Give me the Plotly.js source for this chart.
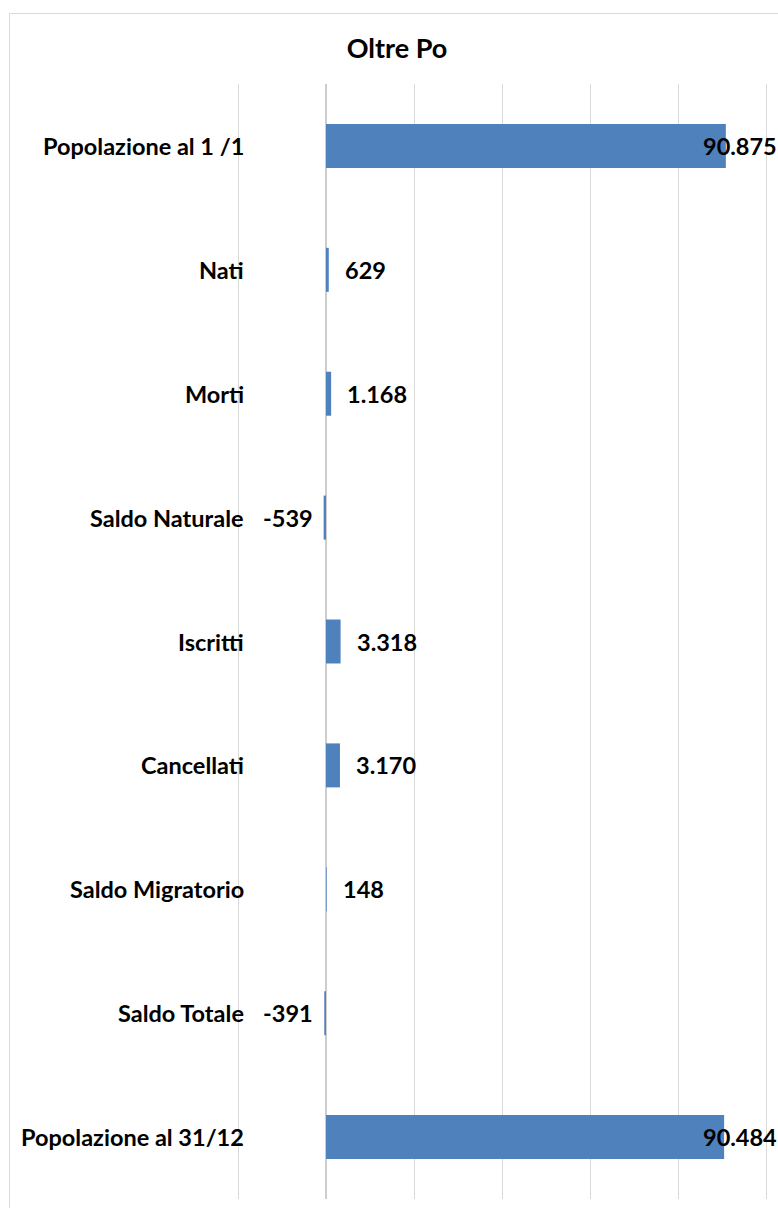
<!DOCTYPE html>
<html>
<head>
<meta charset="utf-8">
<script src="https://cdn.plot.ly/plotly-3.0.1.min.js"></script>
<style>
  html, body { margin: 0; padding: 0; background: #ffffff; }
  #chart { width: 778px; height: 1208px; }
</style>
</head>
<body>
<div id="chart"></div>
<script>
// ---- data ----
const categories = [
  "Popolazione al 1 /1",
  "Nati",
  "Morti",
  "Saldo Naturale",
  "Iscritti",
  "Cancellati",
  "Saldo Migratorio",
  "Saldo Totale",
  "Popolazione al 31/12"
];
const values = [90875, 629, 1168, -539, 3318, 3170, 148, -391, 90484];
const chartTitle = "Oltre Po";

// ---- helpers ----
function fmtIt(v) {
  const s = Math.abs(v).toString().replace(/\B(?=(\d{3})+(?!\d))/g, ".");
  return (v < 0 ? "-" : "") + s;
}

const W = 778, H = 1208;
const M = { l: 236, r: 10, t: 84, b: 9 };
const plotW = W - M.l - M.r;
const plotH = H - M.t - M.b;
const px2paperX = px => (px - M.l) / plotW;
const px2paperY = py => (H - M.b - py) / plotH;
// -20000 at x=238, 100000 at x=766
const pxPerUnit = (766 - 238) / 120000;
const xRange = [-20000 - 2 / pxPerUnit, 100000 + 2 / pxPerUnit];

const FONT = "Lato, 'Open Sans', sans-serif";
const labelFont = { family: FONT, size: 23.5, color: "#000000", weight: 700 };

const annotations = [];
// category labels
categories.forEach(c => {
  annotations.push({
    xref: "paper", yref: "y", x: px2paperX(246), y: c,
    text: "<b>" + c + "</b>", showarrow: false, xanchor: "right", yanchor: "middle",
    font: labelFont
  });
});
// value labels
categories.forEach((c, i) => {
  const v = values[i];
  const big = v > 80000;
  if (big) {
    annotations.push({
      xref: "paper", yref: "y", x: px2paperX(779), y: c,
      text: "<b>" + fmtIt(v) + "</b>", showarrow: false, xanchor: "right", yanchor: "middle",
      font: labelFont
    });
  } else if (v >= 0) {
    annotations.push({
      xref: "x", yref: "y", x: v, y: c, xshift: 14,
      text: "<b>" + fmtIt(v) + "</b>", showarrow: false, xanchor: "left", yanchor: "middle",
      font: labelFont
    });
  } else {
    annotations.push({
      xref: "x", yref: "y", x: v, y: c, xshift: -9,
      text: "<b>" + fmtIt(v) + "</b>", showarrow: false, xanchor: "right", yanchor: "middle",
      font: labelFont
    });
  }
});

const trace = {
  type: "bar",
  orientation: "h",
  x: values,
  y: categories,
  width: 0.355,
  marker: { color: "#4F81BD" },
  hoverinfo: "x+y"
};

const layout = {
  width: W, height: H,
  margin: M,
  paper_bgcolor: "#ffffff",
  plot_bgcolor: "#ffffff",
  showlegend: false,
  title: {
    text: "<b>" + chartTitle + "</b>",
    font: { family: FONT, size: 27, color: "#000000" },
    x: 397 / W, xanchor: "center", xref: "container",
    y: 1 - 49 / H, yanchor: "middle", yref: "container"
  },
  xaxis: {
    range: xRange,
    dtick: 20000,
    tick0: 0,
    showticklabels: false,
    showgrid: true,
    gridcolor: "#d9d9d9",
    gridwidth: 1,
    zeroline: true,
    zerolinecolor: "#cdcdcd",
    zerolinewidth: 1.5,
    showline: false,
    ticks: "",
    fixedrange: true
  },
  yaxis: {
    type: "category",
    autorange: "reversed",
    showticklabels: false,
    showgrid: false,
    zeroline: false,
    showline: false,
    ticks: "",
    fixedrange: true
  },
  annotations: annotations,
  shapes: [{
    type: "rect", xref: "paper", yref: "paper",
    x0: px2paperX(9.5), x1: px2paperX(800),
    y0: px2paperY(1230), y1: px2paperY(13.5),
    line: { color: "#d9d9d9", width: 1 },
    fillcolor: "rgba(0,0,0,0)",
    layer: "below"
  }]
};

Plotly.newPlot("chart", [trace], layout, { displayModeBar: false, staticPlot: true });
</script>
</body>
</html>
